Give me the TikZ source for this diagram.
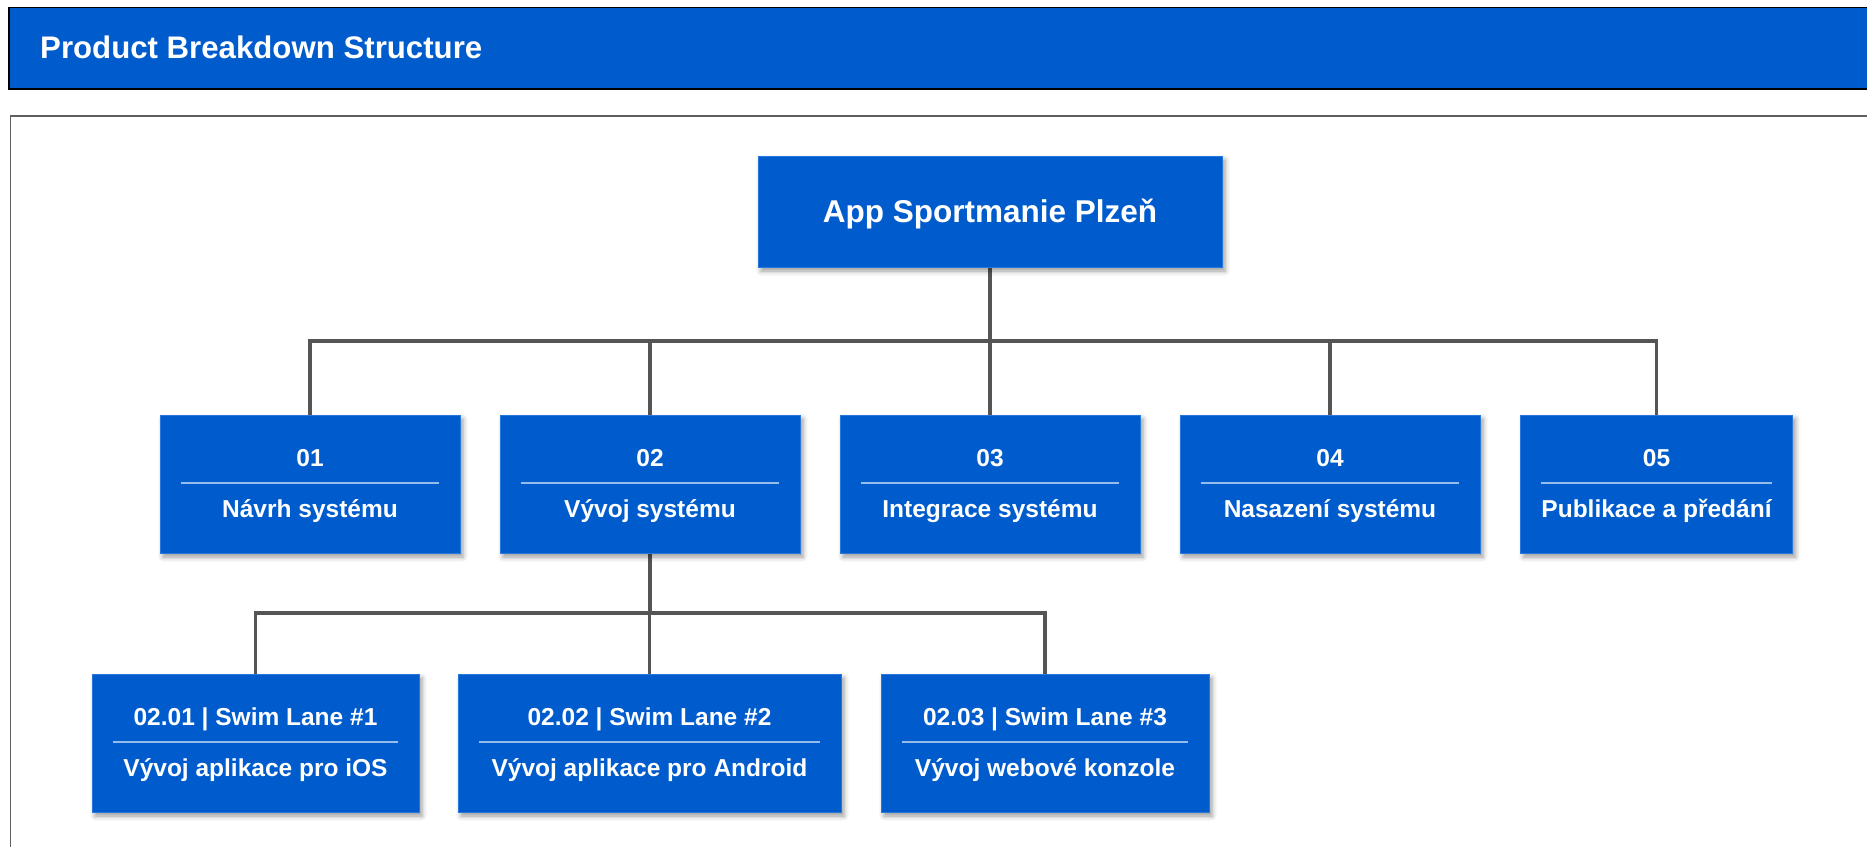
\documentclass[tikz,border=0pt]{standalone}
\usepackage{fontspec}
\setmainfont{Liberation Sans}
\usetikzlibrary{shadows.blur,calc}
\definecolor{pbsblue}{RGB}{0,92,204}
\definecolor{pbsedge}{RGB}{40,120,220}
\definecolor{pbsline}{RGB}{85,85,85}
\definecolor{pbsrule}{RGB}{150,188,236}
\definecolor{pbsframe}{RGB}{95,95,95}

% one work package: name, centre x, width, centre y, code, title
\newcommand\pbsitem[6]{%
  \node[pbsbox, minimum width=#3, minimum height=138] (#1) at (#2,#4) {};
  \node[pbslabel] (#1-code) at ($(#1.center)+(0,-18)$) {#5};
  \draw[pbssep] ($(#1.west)+(21,-1)$) -- ($(#1.east)+(-21,-1)$);
  \node[pbslabel] (#1-name) at ($(#1.center)+(0,33)$) {#6};
}

\begin{document}
\begin{tikzpicture}[x=1pt,y=-1pt,
  pbsbox/.style={fill=pbsblue, draw=pbsedge, line width=0.8pt, inner sep=0pt,
    blur shadow={shadow xshift=3pt, shadow yshift=-4pt, shadow blur radius=5pt, shadow opacity=40}},
  pbslabel/.style={anchor=base, text=white, inner sep=0pt,
    font=\fontsize{24.5}{29}\selectfont\bfseries},
  pbssep/.style={draw=pbsrule, line width=2pt},
  pbslink/.style={draw=pbsline, line width=3.2pt},
]
\useasboundingbox (0,0) rectangle (1867,846);
\clip (0,0) rectangle (1867,846);

% page header and drawing frame
\draw[fill=pbsblue, draw=black, line width=1.8pt] (9,7.5) rectangle (1900,89);
\node[anchor=base west, text=white, inner sep=0pt,
  font=\fontsize{31.2}{37}\selectfont\bfseries] (title) at (40,58.5) {Product Breakdown Structure};
\draw[draw=pbsframe, line width=1.8pt] (10.5,116) rectangle (1900,900);

% connectors (drawn first, boxes sit on top)
\coordinate (rootfoot) at (990,267);
\coordinate (devfoot) at (650,553);
\foreach \x in {310,650,990,1330,1656.5}
  \draw[pbslink] (rootfoot) -- ++(0,74) -| (\x,416);
\foreach \x in {255.5,649.5,1045}
  \draw[pbslink] (devfoot) -- ++(0,60) -| (\x,675);

% root
\node[pbsbox, minimum width=464, minimum height=111] (root) at (990,211.5) {};
\node[anchor=base, text=white, inner sep=0pt,
  font=\fontsize{31.5}{38}\selectfont\bfseries] (root-name) at ($(root.center)+(0,10.5)$) {App Sportmanie Plzeň};

% first level
\pbsitem{p01}{310}{300}{484}{01}{Návrh systému}
\pbsitem{p02}{650}{300}{484}{02}{Vývoj systému}
\pbsitem{p03}{990}{300}{484}{03}{Integrace systému}
\pbsitem{p04}{1330}{300}{484}{04}{Nasazení systému}
\pbsitem{p05}{1656.5}{272}{484}{05}{Publikace a předání}

% second level
\pbsitem{p0201}{255.5}{327}{743}{02.01 | Swim Lane \#1}{Vývoj aplikace pro iOS}
\pbsitem{p0202}{649.5}{383}{743}{02.02 | Swim Lane \#2}{Vývoj aplikace pro Android}
\pbsitem{p0203}{1045}{328}{743}{02.03 | Swim Lane \#3}{Vývoj webové konzole}
\end{tikzpicture}
\end{document}
